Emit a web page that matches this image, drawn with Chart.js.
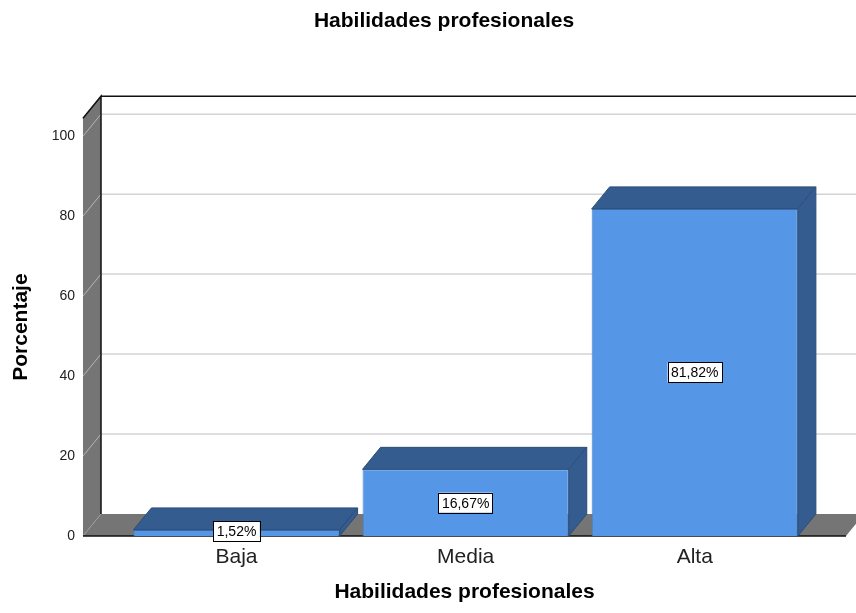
<!DOCTYPE html>
<html>
<head>
<meta charset="utf-8">
<script src="https://cdn.jsdelivr.net/npm/chart.js@4.4.1/dist/chart.umd.min.js"></script>
<style>
  html, body { margin: 0; padding: 0; background: #fff; }
  #wrap { width: 856px; height: 613px; }
</style>
</head>
<body>
<div id="wrap"><canvas id="chart" width="856" height="613"></canvas></div>
<script>
const categories = ['Baja', 'Media', 'Alta'];
const percentages = [1.52, 16.67, 81.82];
const yTicks = [0, 20, 40, 60, 80, 100];

const FONT = '"Liberation Sans", Arial, sans-serif';
const depthX = 18, depthY = 22; // 3d offset of the back plane
const wallGray = '#757575';
const barFront = '#5596e6';
const barDark = '#345c8e';

const fmt = v => v.toFixed(2).replace('.', ',') + '%';

const poly = (ctx, pts, fill, stroke) => {
    ctx.beginPath();
    ctx.moveTo(pts[0][0], pts[0][1]);
    pts.slice(1).forEach(p => ctx.lineTo(p[0], p[1]));
    ctx.closePath();
    if (fill) { ctx.fillStyle = fill; ctx.fill(); }
    if (stroke) { ctx.strokeStyle = stroke; ctx.lineWidth = 1; ctx.stroke(); }
};

const box3d = {
    id: 'box3d',
    afterLayout(chart) {
        // title in the original sits a bit right of the canvas centre
        chart.titleBlock.left = 32;
        chart.titleBlock.right = 856;
    },
    beforeDatasetsDraw(chart) {
        const {ctx, chartArea: a, scales: {y}} = chart;
        ctx.save();
        // back wall gridlines
        yTicks.forEach(v => {
            if (v == 0) return;
            const py = y.getPixelForValue(v) - depthY;
            ctx.strokeStyle = '#d3d3d3';
            ctx.lineWidth = 1.5;
            ctx.beginPath();
            ctx.moveTo(a.left + depthX, py);
            ctx.lineTo(a.right + depthX, py);
            ctx.stroke();
        });
        // top border of back wall
        ctx.strokeStyle = '#111';
        ctx.lineWidth = 1.5;
        ctx.beginPath();
        ctx.moveTo(a.left + depthX, a.top - depthY);
        ctx.lineTo(a.right + depthX + 20, a.top - depthY);
        ctx.stroke();
        // left wall
        poly(ctx, [[a.left, a.top], [a.left + depthX, a.top - depthY], [a.left + depthX, a.bottom - depthY], [a.left, a.bottom]], wallGray);
        yTicks.forEach(v => {
            if (v == 0) return;
            const py = y.getPixelForValue(v);
            ctx.strokeStyle = '#b5b5b5';
            ctx.lineWidth = 1;
            ctx.beginPath();
            ctx.moveTo(a.left, py);
            ctx.lineTo(a.left + depthX, py - depthY);
            ctx.stroke();
        });
        // floor
        poly(ctx, [[a.left, a.bottom], [a.left + depthX, a.bottom - depthY], [a.right + depthX, a.bottom - depthY], [a.right, a.bottom]], wallGray);
        ctx.strokeStyle = '#9a9a9a';
        ctx.beginPath();
        ctx.moveTo(a.left, a.bottom);
        ctx.lineTo(a.left + depthX, a.bottom - depthY);
        ctx.stroke();
        // dark edges
        ctx.strokeStyle = '#111';
        ctx.lineWidth = 1.5;
        ctx.beginPath();
        ctx.moveTo(a.left, a.top);
        ctx.lineTo(a.left + depthX, a.top - depthY);
        ctx.lineTo(a.left + depthX, a.bottom - depthY);
        ctx.stroke();
        ctx.beginPath();
        ctx.moveTo(a.left, a.bottom);
        ctx.lineTo(a.right, a.bottom);
        ctx.stroke();
        ctx.restore();
    },
    afterDatasetsDraw(chart) {
        const {ctx} = chart;
        const meta = chart.getDatasetMeta(0);
        ctx.save();
        meta.data.forEach((bar, i) => {
            const l = bar.x - bar.width / 2, r = bar.x + bar.width / 2;
            // top face and right side
            poly(ctx, [[l, bar.y], [l + depthX, bar.y - depthY], [r + depthX, bar.y - depthY], [r, bar.y]], barDark, '#2c4d78');
            poly(ctx, [[r, bar.y], [r + depthX, bar.y - depthY], [r + depthX, bar.base - depthY], [r, bar.base]], barDark, '#2c4d78');
        });
        // value labels
        ctx.font = '14px ' + FONT;
        ctx.textAlign = 'center';
        ctx.textBaseline = 'middle';
        meta.data.forEach((bar, i) => {
            const txt = fmt(percentages[i]);
            const w = ctx.measureText(txt).width + 7;
            const h = 20;
            const cy = Math.min((bar.y + bar.base) / 2, bar.base - 5);
            ctx.fillStyle = '#fff';
            ctx.fillRect(bar.x - w / 2, cy - h / 2, w, h);
            ctx.strokeStyle = '#000';
            ctx.lineWidth = 1;
            ctx.strokeRect(Math.round(bar.x - w / 2) + 0.5, Math.round(cy - h / 2) + 0.5, Math.round(w), h);
            ctx.fillStyle = '#000';
            ctx.fillText(txt, bar.x, cy + 1);
        });
        ctx.restore();
    }
};

new Chart('chart', {
    type: 'bar',
    data: {
        datasets: [{
            data: percentages.map((v, i) => ({x: i, y: v})),
            backgroundColor: barFront,
            borderColor: '#4a7fc0',
            borderWidth: 1,
            barPercentage: 0.9,
            categoryPercentage: 1
        }]
    },
    options: {
        responsive: false,
        animation: false,
        layout: { padding: { left: 0, right: 10, top: 0, bottom: 0 } },
        plugins: {
            legend: { display: false },
            tooltip: { enabled: false },
            title: {
                display: true,
                text: 'Habilidades profesionales',
                color: '#000',
                font: { family: FONT, size: 21, weight: 'bold' },
                padding: { top: 9, bottom: 84 }
            }
        },
        scales: {
            x: {
                type: 'linear',
                offset: false,
                min: -0.67,
                max: 2.66,
                grid: { display: false, offset: false, drawTicks: false },
                border: { display: false },
                afterFit: scale => { scale.height = 77; },
                afterBuildTicks: axis => { axis.ticks = categories.map((c, i) => ({value: i})); },
                ticks: {
                    padding: 9,
                    maxRotation: 0,
                    autoSkip: false,
                    color: '#222',
                    font: { family: FONT, size: 21 },
                    callback: v => categories[v]
                },
                title: {
                    display: true,
                    text: 'Habilidades profesionales',
                    color: '#000',
                    font: { family: FONT, size: 21, weight: 'bold' },
                    padding: { top: 0, bottom: 8 }
                }
            },
            y: {
                min: 0,
                max: 104.5,
                grid: { display: false, drawTicks: false },
                border: { display: false },
                afterFit: scale => { scale.width = 83; },
                afterBuildTicks: axis => { axis.ticks = yTicks.map(v => ({value: v})); },
                ticks: {
                    padding: 8,
                    color: '#222',
                    font: { family: FONT, size: 14 }
                },
                title: {
                    display: true,
                    text: 'Porcentaje',
                    color: '#000',
                    font: { family: FONT, size: 21, weight: 'bold' },
                    padding: { top: 9, bottom: 0 }
                }
            }
        }
    },
    plugins: [box3d]
});
</script>
</body>
</html>
